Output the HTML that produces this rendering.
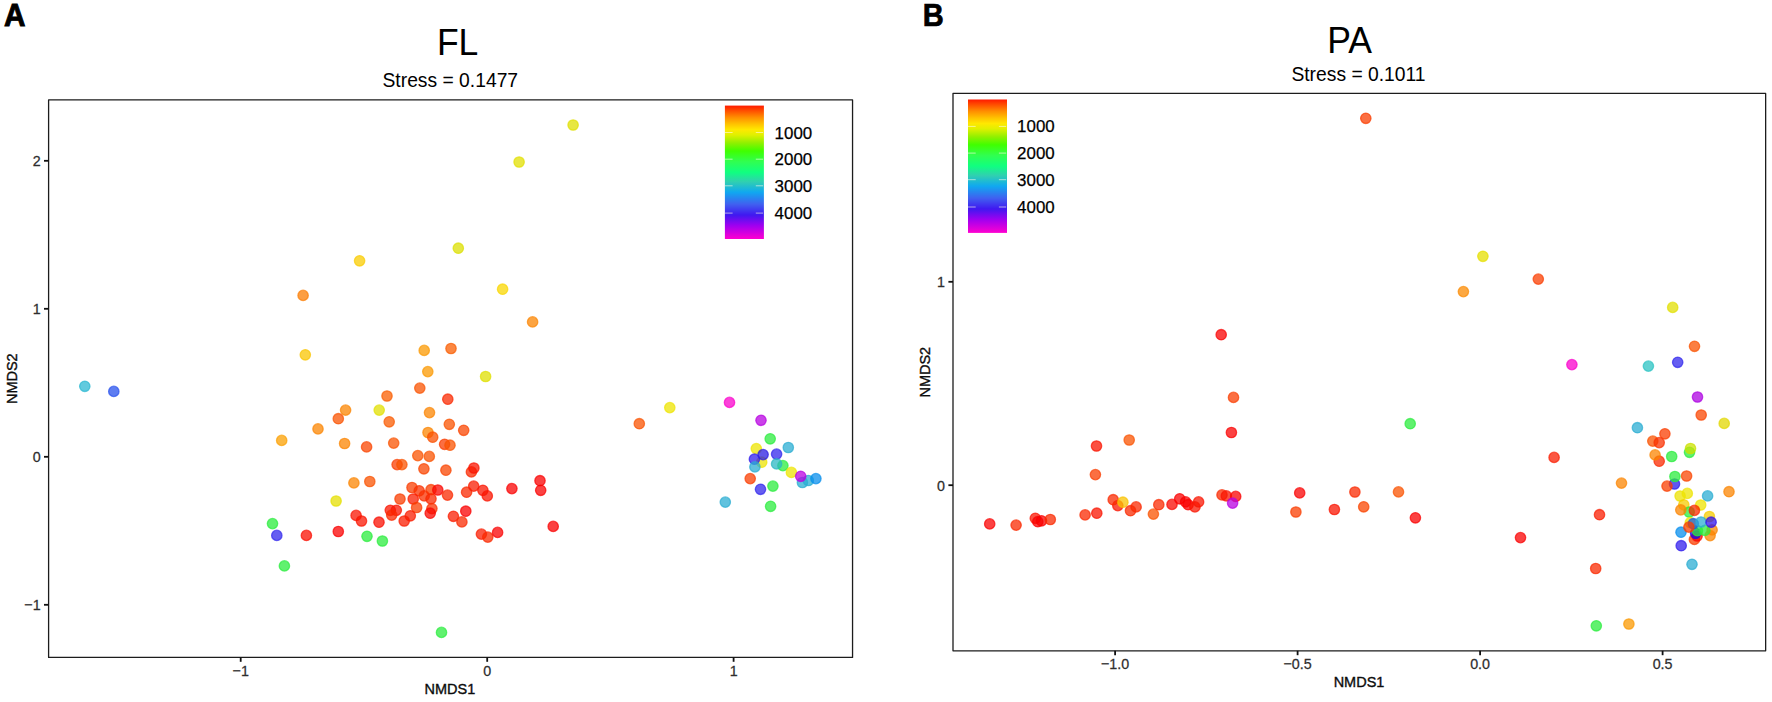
<!DOCTYPE html>
<html lang="en"><head><meta charset="utf-8"><title>NMDS FL / PA</title>
<style>html,body{margin:0;padding:0;background:#fff}body{width:1772px;height:702px;overflow:hidden}svg{display:block}</style>
</head><body>
<svg width="1772" height="702" viewBox="0 0 1772 702" font-family="'Liberation Sans', Arial, sans-serif" fill="#000">
<defs>
<linearGradient id="rb" x1="0" y1="0" x2="0" y2="1">
<stop offset="0" stop-color="#ff1a00"/>
<stop offset="0.04" stop-color="#ff5000"/>
<stop offset="0.09" stop-color="#ff9000"/>
<stop offset="0.14" stop-color="#ffc400"/>
<stop offset="0.18" stop-color="#ffe800"/>
<stop offset="0.22" stop-color="#e0f000"/>
<stop offset="0.28" stop-color="#90f000"/>
<stop offset="0.34" stop-color="#40ff00"/>
<stop offset="0.42" stop-color="#30ff50"/>
<stop offset="0.5" stop-color="#10ff80"/>
<stop offset="0.57" stop-color="#30d0b0"/>
<stop offset="0.65" stop-color="#10a8f0"/>
<stop offset="0.74" stop-color="#4060f0"/>
<stop offset="0.82" stop-color="#4018f0"/>
<stop offset="0.9" stop-color="#a000f0"/>
<stop offset="1" stop-color="#ff00d0"/>
</linearGradient>
</defs>
<rect width="1772" height="702" fill="#fff"/>
<text x="4" y="26" font-size="31" font-weight="bold" textLength="21.5" lengthAdjust="spacingAndGlyphs" stroke="#000" stroke-width="0.9">A</text>
<text x="922.8" y="25.9" font-size="31" font-weight="bold" textLength="21" lengthAdjust="spacingAndGlyphs" stroke="#000" stroke-width="0.7">B</text>
<text transform="translate(457.60,54.90) scale(1,1.060)" font-size="35.5" text-anchor="middle">FL</text>
<text x="450.3" y="86.9" font-size="19.3" text-anchor="middle">Stress = 0.1477</text>
<text transform="translate(1349.50,53.00) scale(1,1.060)" font-size="35.5" text-anchor="middle">PA</text>
<text x="1358.5" y="80.5" font-size="19.3" text-anchor="middle">Stress = 0.1011</text>
<rect x="48.60" y="99.90" width="803.95" height="557.50" fill="none" stroke="#1c1c1c" stroke-width="1.3" stroke-linejoin="round"/>
<rect x="953.00" y="93.40" width="812.65" height="557.40" fill="none" stroke="#1c1c1c" stroke-width="1.3" stroke-linejoin="round"/>
<path d="M240.7 657.4v4.4" stroke="#111" stroke-width="1.8"/><text transform="translate(240.70,676.00) scale(1,1.060)" font-size="14.3" text-anchor="middle" fill="#2e2e2e" stroke="#2e2e2e" stroke-width="0.25">−1</text>
<path d="M487.2 657.4v4.4" stroke="#111" stroke-width="1.8"/><text transform="translate(487.20,676.00) scale(1,1.060)" font-size="14.3" text-anchor="middle" fill="#2e2e2e" stroke="#2e2e2e" stroke-width="0.25">0</text>
<path d="M733.6 657.4v4.4" stroke="#111" stroke-width="1.8"/><text transform="translate(733.60,676.00) scale(1,1.060)" font-size="14.3" text-anchor="middle" fill="#2e2e2e" stroke="#2e2e2e" stroke-width="0.25">1</text>
<path d="M48.6 160.8h-4.6" stroke="#111" stroke-width="1.8"/><text transform="translate(40.60,166.30) scale(1,1.060)" font-size="14.3" text-anchor="end" fill="#2e2e2e" stroke="#2e2e2e" stroke-width="0.25">2</text>
<path d="M48.6 308.8h-4.6" stroke="#111" stroke-width="1.8"/><text transform="translate(40.60,314.30) scale(1,1.060)" font-size="14.3" text-anchor="end" fill="#2e2e2e" stroke="#2e2e2e" stroke-width="0.25">1</text>
<path d="M48.6 456.8h-4.6" stroke="#111" stroke-width="1.8"/><text transform="translate(40.60,462.30) scale(1,1.060)" font-size="14.3" text-anchor="end" fill="#2e2e2e" stroke="#2e2e2e" stroke-width="0.25">0</text>
<path d="M48.6 604.8h-4.6" stroke="#111" stroke-width="1.8"/><text transform="translate(40.60,610.30) scale(1,1.060)" font-size="14.3" text-anchor="end" fill="#2e2e2e" stroke="#2e2e2e" stroke-width="0.25">−1</text>
<path d="M1115.1 650.8v4.4" stroke="#111" stroke-width="1.8"/><text transform="translate(1115.10,669.40) scale(1,1.060)" font-size="14.3" text-anchor="middle" fill="#2e2e2e" stroke="#2e2e2e" stroke-width="0.25">−1.0</text>
<path d="M1297.6 650.8v4.4" stroke="#111" stroke-width="1.8"/><text transform="translate(1297.60,669.40) scale(1,1.060)" font-size="14.3" text-anchor="middle" fill="#2e2e2e" stroke="#2e2e2e" stroke-width="0.25">−0.5</text>
<path d="M1480.1 650.8v4.4" stroke="#111" stroke-width="1.8"/><text transform="translate(1480.10,669.40) scale(1,1.060)" font-size="14.3" text-anchor="middle" fill="#2e2e2e" stroke="#2e2e2e" stroke-width="0.25">0.0</text>
<path d="M1662.6 650.8v4.4" stroke="#111" stroke-width="1.8"/><text transform="translate(1662.60,669.40) scale(1,1.060)" font-size="14.3" text-anchor="middle" fill="#2e2e2e" stroke="#2e2e2e" stroke-width="0.25">0.5</text>
<path d="M953.0 281.8h-4.6" stroke="#111" stroke-width="1.8"/><text transform="translate(945.00,287.30) scale(1,1.060)" font-size="14.3" text-anchor="end" fill="#2e2e2e" stroke="#2e2e2e" stroke-width="0.25">1</text>
<path d="M953.0 485.2h-4.6" stroke="#111" stroke-width="1.8"/><text transform="translate(945.00,490.70) scale(1,1.060)" font-size="14.3" text-anchor="end" fill="#2e2e2e" stroke="#2e2e2e" stroke-width="0.25">0</text>
<text transform="translate(449.90,693.50) scale(1,1.070)" font-size="14.5" text-anchor="middle" fill="#0c0c0c" stroke="#0c0c0c" stroke-width="0.35">NMDS1</text>
<text transform="translate(1359.00,687.10) scale(1,1.070)" font-size="14.5" text-anchor="middle" fill="#0c0c0c" stroke="#0c0c0c" stroke-width="0.35">NMDS1</text>
<text transform="translate(17.20,378.70) rotate(-90) scale(1,1.070)" font-size="14.5" text-anchor="middle" fill="#0c0c0c" stroke="#0c0c0c" stroke-width="0.35">NMDS2</text>
<text transform="translate(929.90,372.20) rotate(-90) scale(1,1.070)" font-size="14.5" text-anchor="middle" fill="#0c0c0c" stroke="#0c0c0c" stroke-width="0.35">NMDS2</text>
<rect x="724.9" y="105.6" width="39.0" height="133.4" fill="url(#rb)"/>
<path d="M724.9 132.5h7.7M763.1 132.5h-7.3" stroke="#fffbe8" stroke-opacity=".6" stroke-width="1"/>
<text x="774.6" y="138.5" font-size="16.9" stroke="#000" stroke-width="0.25">1000</text>
<path d="M724.9 159.2h7.7M763.1 159.2h-7.3" stroke="#fffbe8" stroke-opacity=".6" stroke-width="1"/>
<text x="774.6" y="165.2" font-size="16.9" stroke="#000" stroke-width="0.25">2000</text>
<path d="M724.9 185.8h7.7M763.1 185.8h-7.3" stroke="#fffbe8" stroke-opacity=".6" stroke-width="1"/>
<text x="774.6" y="191.8" font-size="16.9" stroke="#000" stroke-width="0.25">3000</text>
<path d="M724.9 213.1h7.7M763.1 213.1h-7.3" stroke="#fffbe8" stroke-opacity=".6" stroke-width="1"/>
<text x="774.6" y="219.1" font-size="16.9" stroke="#000" stroke-width="0.25">4000</text>
<rect x="968.0" y="99.5" width="39.0" height="133.4" fill="url(#rb)"/>
<path d="M968.0 126.4h7.7M1006.2 126.4h-7.3" stroke="#fffbe8" stroke-opacity=".6" stroke-width="1"/>
<text x="1017.1" y="132.4" font-size="16.9" stroke="#000" stroke-width="0.25">1000</text>
<path d="M968.0 153.1h7.7M1006.2 153.1h-7.3" stroke="#fffbe8" stroke-opacity=".6" stroke-width="1"/>
<text x="1017.1" y="159.1" font-size="16.9" stroke="#000" stroke-width="0.25">2000</text>
<path d="M968.0 179.7h7.7M1006.2 179.7h-7.3" stroke="#fffbe8" stroke-opacity=".6" stroke-width="1"/>
<text x="1017.1" y="185.7" font-size="16.9" stroke="#000" stroke-width="0.25">3000</text>
<path d="M968.0 207.0h7.7M1006.2 207.0h-7.3" stroke="#fffbe8" stroke-opacity=".6" stroke-width="1"/>
<text x="1017.1" y="213.0" font-size="16.9" stroke="#000" stroke-width="0.25">4000</text>
<g fill-opacity="0.74" stroke-opacity="0.7" stroke-width="1.3">
<circle cx="573.1" cy="125.0" r="5.2" fill="#dfdf00" stroke="#dfdf00"/>
<circle cx="519.1" cy="162.0" r="5.2" fill="#e1df00" stroke="#e1df00"/>
<circle cx="458.3" cy="248.2" r="5.2" fill="#dcdf00" stroke="#dcdf00"/>
<circle cx="359.6" cy="260.8" r="5.2" fill="#f9cc00" stroke="#f9cc00"/>
<circle cx="303.1" cy="295.4" r="5.2" fill="#fb7c00" stroke="#fb7c00"/>
<circle cx="502.6" cy="289.2" r="5.2" fill="#f9d700" stroke="#f9d700"/>
<circle cx="532.6" cy="321.9" r="5.2" fill="#fb8400" stroke="#fb8400"/>
<circle cx="84.8" cy="386.3" r="5.2" fill="#2ab8d2" stroke="#2ab8d2"/>
<circle cx="113.8" cy="391.4" r="5.2" fill="#2650ec" stroke="#2650ec"/>
<circle cx="305.3" cy="354.8" r="5.2" fill="#f9c500" stroke="#f9c500"/>
<circle cx="424.2" cy="350.4" r="5.2" fill="#fb9800" stroke="#fb9800"/>
<circle cx="451.0" cy="348.5" r="5.2" fill="#fa5d00" stroke="#fa5d00"/>
<circle cx="427.8" cy="371.6" r="5.2" fill="#fb9800" stroke="#fb9800"/>
<circle cx="485.6" cy="376.5" r="5.2" fill="#dfdf00" stroke="#dfdf00"/>
<circle cx="419.8" cy="388.1" r="5.2" fill="#fa5200" stroke="#fa5200"/>
<circle cx="387.0" cy="396.0" r="5.2" fill="#fa5d00" stroke="#fa5d00"/>
<circle cx="447.8" cy="399.2" r="5.2" fill="#fa2900" stroke="#fa2900"/>
<circle cx="345.6" cy="410.1" r="5.2" fill="#fb8400" stroke="#fb8400"/>
<circle cx="379.2" cy="410.1" r="5.2" fill="#e1df00" stroke="#e1df00"/>
<circle cx="429.5" cy="412.6" r="5.2" fill="#fb8400" stroke="#fb8400"/>
<circle cx="338.3" cy="418.7" r="5.2" fill="#fa5200" stroke="#fa5200"/>
<circle cx="389.2" cy="421.8" r="5.2" fill="#fa5a00" stroke="#fa5a00"/>
<circle cx="449.3" cy="424.3" r="5.2" fill="#fa5200" stroke="#fa5200"/>
<circle cx="318.0" cy="428.9" r="5.2" fill="#fb8400" stroke="#fb8400"/>
<circle cx="463.7" cy="430.3" r="5.2" fill="#fa4500" stroke="#fa4500"/>
<circle cx="428.0" cy="432.5" r="5.2" fill="#fb8400" stroke="#fb8400"/>
<circle cx="432.7" cy="437.2" r="5.2" fill="#fa5000" stroke="#fa5000"/>
<circle cx="281.7" cy="440.4" r="5.2" fill="#fb9f00" stroke="#fb9f00"/>
<circle cx="344.6" cy="443.5" r="5.2" fill="#fb8400" stroke="#fb8400"/>
<circle cx="393.7" cy="443.1" r="5.2" fill="#fa5200" stroke="#fa5200"/>
<circle cx="444.6" cy="444.3" r="5.2" fill="#fa3d00" stroke="#fa3d00"/>
<circle cx="450.0" cy="445.2" r="5.2" fill="#fa5200" stroke="#fa5200"/>
<circle cx="366.6" cy="446.9" r="5.2" fill="#fa4500" stroke="#fa4500"/>
<circle cx="417.8" cy="455.6" r="5.2" fill="#fa5200" stroke="#fa5200"/>
<circle cx="429.3" cy="456.4" r="5.2" fill="#fa5200" stroke="#fa5200"/>
<circle cx="397.1" cy="464.6" r="5.2" fill="#fa3d00" stroke="#fa3d00"/>
<circle cx="401.9" cy="464.6" r="5.2" fill="#fa5200" stroke="#fa5200"/>
<circle cx="423.9" cy="468.8" r="5.2" fill="#fa4500" stroke="#fa4500"/>
<circle cx="445.9" cy="470.2" r="5.2" fill="#fa4500" stroke="#fa4500"/>
<circle cx="471.4" cy="471.9" r="5.2" fill="#fa2900" stroke="#fa2900"/>
<circle cx="473.9" cy="468.0" r="5.2" fill="#fa1400" stroke="#fa1400"/>
<circle cx="353.9" cy="482.9" r="5.2" fill="#fb8400" stroke="#fb8400"/>
<circle cx="369.8" cy="481.5" r="5.2" fill="#fa5200" stroke="#fa5200"/>
<circle cx="412.0" cy="487.5" r="5.2" fill="#fa3d00" stroke="#fa3d00"/>
<circle cx="419.2" cy="490.8" r="5.2" fill="#fa3100" stroke="#fa3100"/>
<circle cx="431.0" cy="489.7" r="5.2" fill="#fa3d00" stroke="#fa3d00"/>
<circle cx="437.8" cy="490.0" r="5.2" fill="#fa0700" stroke="#fa0700"/>
<circle cx="447.5" cy="495.1" r="5.2" fill="#fa2900" stroke="#fa2900"/>
<circle cx="466.6" cy="492.2" r="5.2" fill="#fa2900" stroke="#fa2900"/>
<circle cx="473.7" cy="486.1" r="5.2" fill="#fa1c00" stroke="#fa1c00"/>
<circle cx="482.9" cy="490.3" r="5.2" fill="#fa1400" stroke="#fa1400"/>
<circle cx="487.3" cy="495.9" r="5.2" fill="#fa1400" stroke="#fa1400"/>
<circle cx="511.9" cy="488.6" r="5.2" fill="#fa0000" stroke="#fa0000"/>
<circle cx="540.0" cy="480.7" r="5.2" fill="#fa0000" stroke="#fa0000"/>
<circle cx="540.7" cy="490.3" r="5.2" fill="#fa0000" stroke="#fa0000"/>
<circle cx="424.2" cy="495.9" r="5.2" fill="#fa3100" stroke="#fa3100"/>
<circle cx="431.0" cy="498.8" r="5.2" fill="#fa2900" stroke="#fa2900"/>
<circle cx="413.2" cy="499.0" r="5.2" fill="#fa1c00" stroke="#fa1c00"/>
<circle cx="400.0" cy="499.0" r="5.2" fill="#fa3d00" stroke="#fa3d00"/>
<circle cx="336.1" cy="501.0" r="5.2" fill="#e6df00" stroke="#e6df00"/>
<circle cx="416.6" cy="507.5" r="5.2" fill="#fa3d00" stroke="#fa3d00"/>
<circle cx="431.9" cy="508.6" r="5.2" fill="#fa3100" stroke="#fa3100"/>
<circle cx="430.2" cy="513.2" r="5.2" fill="#fa0700" stroke="#fa0700"/>
<circle cx="390.3" cy="510.3" r="5.2" fill="#fa1400" stroke="#fa1400"/>
<circle cx="396.3" cy="510.3" r="5.2" fill="#fa1400" stroke="#fa1400"/>
<circle cx="391.7" cy="515.1" r="5.2" fill="#fa2900" stroke="#fa2900"/>
<circle cx="410.3" cy="515.8" r="5.2" fill="#fa1c00" stroke="#fa1c00"/>
<circle cx="404.2" cy="521.0" r="5.2" fill="#fa1c00" stroke="#fa1c00"/>
<circle cx="465.8" cy="511.2" r="5.2" fill="#fa0000" stroke="#fa0000"/>
<circle cx="453.4" cy="516.3" r="5.2" fill="#fa1c00" stroke="#fa1c00"/>
<circle cx="461.9" cy="521.9" r="5.2" fill="#fa2900" stroke="#fa2900"/>
<circle cx="356.1" cy="515.4" r="5.2" fill="#fa1400" stroke="#fa1400"/>
<circle cx="361.5" cy="521.0" r="5.2" fill="#fa1400" stroke="#fa1400"/>
<circle cx="379.0" cy="522.2" r="5.2" fill="#fa0d00" stroke="#fa0d00"/>
<circle cx="272.5" cy="523.6" r="5.2" fill="#2aec3d" stroke="#2aec3d"/>
<circle cx="276.8" cy="535.4" r="5.2" fill="#3126ec" stroke="#3126ec"/>
<circle cx="306.4" cy="535.4" r="5.2" fill="#fa0d00" stroke="#fa0d00"/>
<circle cx="338.3" cy="531.5" r="5.2" fill="#fa0000" stroke="#fa0000"/>
<circle cx="367.0" cy="536.3" r="5.2" fill="#2aec3d" stroke="#2aec3d"/>
<circle cx="382.4" cy="541.0" r="5.2" fill="#2aec3d" stroke="#2aec3d"/>
<circle cx="481.4" cy="534.1" r="5.2" fill="#fa1c00" stroke="#fa1c00"/>
<circle cx="487.8" cy="537.1" r="5.2" fill="#fa2900" stroke="#fa2900"/>
<circle cx="497.6" cy="532.4" r="5.2" fill="#fa0000" stroke="#fa0000"/>
<circle cx="553.2" cy="526.4" r="5.2" fill="#fa0000" stroke="#fa0000"/>
<circle cx="284.4" cy="565.9" r="5.2" fill="#2aec3d" stroke="#2aec3d"/>
<circle cx="441.5" cy="632.4" r="5.2" fill="#2aec3d" stroke="#2aec3d"/>
<circle cx="729.5" cy="402.4" r="5.2" fill="#fa00cc" stroke="#fa00cc"/>
<circle cx="669.8" cy="407.6" r="5.2" fill="#eee400" stroke="#eee400"/>
<circle cx="639.3" cy="423.7" r="5.2" fill="#fa5200" stroke="#fa5200"/>
<circle cx="761.0" cy="420.3" r="5.2" fill="#b800e1" stroke="#b800e1"/>
<circle cx="770.2" cy="438.8" r="5.2" fill="#2aec3d" stroke="#2aec3d"/>
<circle cx="788.3" cy="447.5" r="5.2" fill="#2aadd2" stroke="#2aadd2"/>
<circle cx="756.3" cy="448.6" r="5.2" fill="#eee400" stroke="#eee400"/>
<circle cx="761.7" cy="462.2" r="5.2" fill="#eee400" stroke="#eee400"/>
<circle cx="754.4" cy="459.2" r="5.2" fill="#311cec" stroke="#311cec"/>
<circle cx="763.1" cy="454.6" r="5.2" fill="#291ce1" stroke="#291ce1"/>
<circle cx="776.6" cy="454.1" r="5.2" fill="#3126ec" stroke="#3126ec"/>
<circle cx="782.9" cy="465.6" r="5.2" fill="#2aec3d" stroke="#2aec3d"/>
<circle cx="776.6" cy="463.9" r="5.2" fill="#2ab8c2" stroke="#2ab8c2"/>
<circle cx="754.9" cy="466.9" r="5.2" fill="#2aadd2" stroke="#2aadd2"/>
<circle cx="791.4" cy="472.4" r="5.2" fill="#eee400" stroke="#eee400"/>
<circle cx="802.4" cy="482.5" r="5.2" fill="#2aadd2" stroke="#2aadd2"/>
<circle cx="808.3" cy="480.5" r="5.2" fill="#2aadd2" stroke="#2aadd2"/>
<circle cx="815.9" cy="478.6" r="5.2" fill="#078eec" stroke="#078eec"/>
<circle cx="800.7" cy="476.3" r="5.2" fill="#b800e1" stroke="#b800e1"/>
<circle cx="750.2" cy="478.6" r="5.2" fill="#fa3d00" stroke="#fa3d00"/>
<circle cx="772.9" cy="486.1" r="5.2" fill="#2aec3d" stroke="#2aec3d"/>
<circle cx="760.5" cy="489.3" r="5.2" fill="#3126ec" stroke="#3126ec"/>
<circle cx="725.3" cy="502.1" r="5.2" fill="#2aadd2" stroke="#2aadd2"/>
<circle cx="770.6" cy="506.3" r="5.2" fill="#2aec3d" stroke="#2aec3d"/>
<circle cx="1365.8" cy="118.3" r="5.2" fill="#fa3d00" stroke="#fa3d00"/>
<circle cx="1482.9" cy="256.3" r="5.2" fill="#e6df00" stroke="#e6df00"/>
<circle cx="1538.3" cy="279.1" r="5.2" fill="#fa3d00" stroke="#fa3d00"/>
<circle cx="1463.4" cy="291.6" r="5.2" fill="#fb8a00" stroke="#fb8a00"/>
<circle cx="1672.7" cy="307.4" r="5.2" fill="#e1df00" stroke="#e1df00"/>
<circle cx="1694.5" cy="346.3" r="5.2" fill="#fa5200" stroke="#fa5200"/>
<circle cx="1571.9" cy="364.6" r="5.2" fill="#fa00cc" stroke="#fa00cc"/>
<circle cx="1648.4" cy="366.1" r="5.2" fill="#2ac2c2" stroke="#2ac2c2"/>
<circle cx="1677.7" cy="362.3" r="5.2" fill="#3126ec" stroke="#3126ec"/>
<circle cx="1697.5" cy="397.0" r="5.2" fill="#ad00e1" stroke="#ad00e1"/>
<circle cx="1701.2" cy="415.0" r="5.2" fill="#fa4500" stroke="#fa4500"/>
<circle cx="1221.2" cy="334.7" r="5.2" fill="#fa0000" stroke="#fa0000"/>
<circle cx="1233.5" cy="397.4" r="5.2" fill="#fa3d00" stroke="#fa3d00"/>
<circle cx="1231.4" cy="432.5" r="5.2" fill="#fa0000" stroke="#fa0000"/>
<circle cx="1129.2" cy="440.0" r="5.2" fill="#fa5200" stroke="#fa5200"/>
<circle cx="1096.5" cy="446.0" r="5.2" fill="#fa1400" stroke="#fa1400"/>
<circle cx="1095.4" cy="474.6" r="5.2" fill="#fa3d00" stroke="#fa3d00"/>
<circle cx="989.7" cy="523.9" r="5.2" fill="#fa0000" stroke="#fa0000"/>
<circle cx="1016.1" cy="525.1" r="5.2" fill="#fa2900" stroke="#fa2900"/>
<circle cx="1035.3" cy="518.3" r="5.2" fill="#fa1400" stroke="#fa1400"/>
<circle cx="1037.8" cy="521.7" r="5.2" fill="#fa0000" stroke="#fa0000"/>
<circle cx="1041.5" cy="520.8" r="5.2" fill="#fa0000" stroke="#fa0000"/>
<circle cx="1050.3" cy="519.5" r="5.2" fill="#fa2900" stroke="#fa2900"/>
<circle cx="1085.1" cy="514.9" r="5.2" fill="#fa2900" stroke="#fa2900"/>
<circle cx="1096.8" cy="513.2" r="5.2" fill="#fa1400" stroke="#fa1400"/>
<circle cx="1117.8" cy="505.6" r="5.2" fill="#fa1400" stroke="#fa1400"/>
<circle cx="1113.2" cy="499.7" r="5.2" fill="#fa2900" stroke="#fa2900"/>
<circle cx="1122.9" cy="502.2" r="5.2" fill="#f9c200" stroke="#f9c200"/>
<circle cx="1130.5" cy="510.7" r="5.2" fill="#fa2900" stroke="#fa2900"/>
<circle cx="1136.1" cy="506.9" r="5.2" fill="#fa2900" stroke="#fa2900"/>
<circle cx="1153.4" cy="514.1" r="5.2" fill="#fa5200" stroke="#fa5200"/>
<circle cx="1158.8" cy="504.7" r="5.2" fill="#fa2900" stroke="#fa2900"/>
<circle cx="1172.0" cy="504.4" r="5.2" fill="#fa0700" stroke="#fa0700"/>
<circle cx="1179.7" cy="498.8" r="5.2" fill="#fa0000" stroke="#fa0000"/>
<circle cx="1185.6" cy="501.9" r="5.2" fill="#fa0000" stroke="#fa0000"/>
<circle cx="1188.1" cy="504.7" r="5.2" fill="#fa0000" stroke="#fa0000"/>
<circle cx="1194.9" cy="506.9" r="5.2" fill="#fa1400" stroke="#fa1400"/>
<circle cx="1198.6" cy="501.9" r="5.2" fill="#fa1400" stroke="#fa1400"/>
<circle cx="1222.0" cy="494.9" r="5.2" fill="#fa2900" stroke="#fa2900"/>
<circle cx="1226.3" cy="495.9" r="5.2" fill="#fa1400" stroke="#fa1400"/>
<circle cx="1235.7" cy="496.4" r="5.2" fill="#fa0000" stroke="#fa0000"/>
<circle cx="1232.6" cy="503.1" r="5.2" fill="#b800e1" stroke="#b800e1"/>
<circle cx="1410.2" cy="423.7" r="5.2" fill="#2aec3d" stroke="#2aec3d"/>
<circle cx="1299.7" cy="492.9" r="5.2" fill="#fa0000" stroke="#fa0000"/>
<circle cx="1354.9" cy="492.0" r="5.2" fill="#fa2900" stroke="#fa2900"/>
<circle cx="1398.5" cy="491.9" r="5.2" fill="#fa5200" stroke="#fa5200"/>
<circle cx="1295.9" cy="512.0" r="5.2" fill="#fa3d00" stroke="#fa3d00"/>
<circle cx="1334.4" cy="509.5" r="5.2" fill="#fa1400" stroke="#fa1400"/>
<circle cx="1363.7" cy="506.8" r="5.2" fill="#fa4500" stroke="#fa4500"/>
<circle cx="1415.4" cy="517.8" r="5.2" fill="#fa0000" stroke="#fa0000"/>
<circle cx="1520.5" cy="537.6" r="5.2" fill="#fa0000" stroke="#fa0000"/>
<circle cx="1724.2" cy="423.4" r="5.2" fill="#e1d700" stroke="#e1d700"/>
<circle cx="1637.4" cy="427.7" r="5.2" fill="#2aadd2" stroke="#2aadd2"/>
<circle cx="1664.9" cy="433.8" r="5.2" fill="#fa3d00" stroke="#fa3d00"/>
<circle cx="1652.8" cy="441.1" r="5.2" fill="#fa5200" stroke="#fa5200"/>
<circle cx="1659.2" cy="442.6" r="5.2" fill="#fa3100" stroke="#fa3100"/>
<circle cx="1689.5" cy="452.3" r="5.2" fill="#2aec3d" stroke="#2aec3d"/>
<circle cx="1690.5" cy="448.5" r="5.2" fill="#cce100" stroke="#cce100"/>
<circle cx="1659.2" cy="461.2" r="5.2" fill="#fa2900" stroke="#fa2900"/>
<circle cx="1655.1" cy="454.9" r="5.2" fill="#fb8400" stroke="#fb8400"/>
<circle cx="1671.7" cy="456.5" r="5.2" fill="#2aec3d" stroke="#2aec3d"/>
<circle cx="1554.1" cy="457.4" r="5.2" fill="#fa1c00" stroke="#fa1c00"/>
<circle cx="1674.5" cy="484.0" r="5.2" fill="#291cec" stroke="#291cec"/>
<circle cx="1674.9" cy="476.5" r="5.2" fill="#2aec3d" stroke="#2aec3d"/>
<circle cx="1686.6" cy="476.0" r="5.2" fill="#fa4500" stroke="#fa4500"/>
<circle cx="1667.0" cy="486.1" r="5.2" fill="#fa3d00" stroke="#fa3d00"/>
<circle cx="1621.5" cy="483.1" r="5.2" fill="#fb8400" stroke="#fb8400"/>
<circle cx="1680.1" cy="496.0" r="5.2" fill="#ece100" stroke="#ece100"/>
<circle cx="1687.3" cy="493.4" r="5.2" fill="#eee400" stroke="#eee400"/>
<circle cx="1707.6" cy="495.9" r="5.2" fill="#2aadd2" stroke="#2aadd2"/>
<circle cx="1729.0" cy="491.7" r="5.2" fill="#fb8400" stroke="#fb8400"/>
<circle cx="1683.8" cy="504.8" r="5.2" fill="#f6cc00" stroke="#f6cc00"/>
<circle cx="1700.7" cy="505.0" r="5.2" fill="#eee400" stroke="#eee400"/>
<circle cx="1689.2" cy="512.0" r="5.2" fill="#2aec3d" stroke="#2aec3d"/>
<circle cx="1680.8" cy="509.9" r="5.2" fill="#fb8400" stroke="#fb8400"/>
<circle cx="1694.4" cy="510.4" r="5.2" fill="#fa2900" stroke="#fa2900"/>
<circle cx="1709.4" cy="516.5" r="5.2" fill="#f6cc00" stroke="#f6cc00"/>
<circle cx="1690.3" cy="522.6" r="5.2" fill="#eee400" stroke="#eee400"/>
<circle cx="1712.1" cy="529.9" r="5.2" fill="#fb8400" stroke="#fb8400"/>
<circle cx="1710.1" cy="535.6" r="5.2" fill="#fb8400" stroke="#fb8400"/>
<circle cx="1694.4" cy="539.4" r="5.2" fill="#fa3d00" stroke="#fa3d00"/>
<circle cx="1697.1" cy="536.0" r="5.2" fill="#fa0700" stroke="#fa0700"/>
<circle cx="1695.6" cy="533.3" r="5.2" fill="#1c07ec" stroke="#1c07ec"/>
<circle cx="1681.0" cy="532.2" r="5.2" fill="#078eec" stroke="#078eec"/>
<circle cx="1704.8" cy="530.4" r="5.2" fill="#2aec3d" stroke="#2aec3d"/>
<circle cx="1697.4" cy="530.7" r="5.2" fill="#2aec3d" stroke="#2aec3d"/>
<circle cx="1693.3" cy="523.7" r="5.2" fill="#145aec" stroke="#145aec"/>
<circle cx="1701.0" cy="522.0" r="5.2" fill="#2aadd2" stroke="#2aadd2"/>
<circle cx="1711.1" cy="522.2" r="5.2" fill="#3111ec" stroke="#3111ec"/>
<circle cx="1688.9" cy="527.1" r="5.2" fill="#fa3d00" stroke="#fa3d00"/>
<circle cx="1681.2" cy="545.7" r="5.2" fill="#311cec" stroke="#311cec"/>
<circle cx="1692.0" cy="564.3" r="5.2" fill="#2aadd2" stroke="#2aadd2"/>
<circle cx="1595.7" cy="568.5" r="5.2" fill="#fa2900" stroke="#fa2900"/>
<circle cx="1599.5" cy="514.7" r="5.2" fill="#fa1c00" stroke="#fa1c00"/>
<circle cx="1596.3" cy="625.8" r="5.2" fill="#2aec3d" stroke="#2aec3d"/>
<circle cx="1628.9" cy="624.0" r="5.2" fill="#fb9800" stroke="#fb9800"/>
</g>
</svg>
</body></html>
